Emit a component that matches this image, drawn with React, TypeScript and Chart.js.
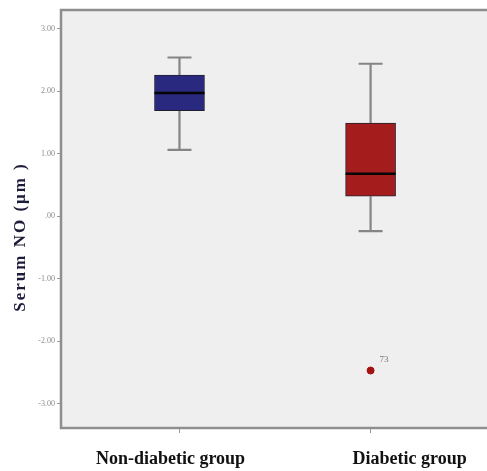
import React, { useEffect, useRef } from "react";
import { Chart, registerables } from "chart.js";

Chart.register(...registerables);

// ---- data ----
const categories = ["Non-diabetic group", "Diabetic group"];
const whiskerLow = [1.06, -0.24];
const q1 = [1.69, 0.32];
const medians = [1.97, 0.68];
const q3 = [2.26, 1.49];
const whiskerHigh = [2.54, 2.44];
const outlierGroup = [1];
const outlierValue = [-2.47];
const outlierLabel = ["73"];
const yTickValues = [3, 2, 1, 0, -1, -2, -3];
const yTickLabels = ["3.00", "2.00", "1.00", ".00", "-1.00", "-2.00", "-3.00"];
const yTitle = "Serum NO (μm )";

// ---- styles ----
const boxColors = ["#29297f", "#a51c1c"];
const labelShift = [-9, 39];
const SERIF = '"Liberation Serif", "Times New Roman", serif';

const boxPlugin = {
  id: "boxExtras",
  beforeDraw(chart: any) {
    const { ctx, chartArea: a } = chart;
    ctx.save();
    ctx.fillStyle = "#efefef";
    ctx.fillRect(a.left, a.top, chart.width - a.left, a.bottom - a.top);
    ctx.restore();
  },
  beforeDatasetsDraw(chart: any) {
    const { ctx } = chart;
    const xs = chart.scales.x;
    const ys = chart.scales.y;
    ctx.save();
    ctx.strokeStyle = "#858585";
    ctx.lineWidth = 2.2;
    const cap = 12;
    categories.forEach((_, i) => {
      const x = xs.getPixelForValue(i);
      const yHi = ys.getPixelForValue(whiskerHigh[i]);
      const yQ3 = ys.getPixelForValue(q3[i]);
      const yQ1 = ys.getPixelForValue(q1[i]);
      const yLo = ys.getPixelForValue(whiskerLow[i]);
      ctx.beginPath();
      ctx.moveTo(x, yHi);
      ctx.lineTo(x, yQ3);
      ctx.moveTo(x, yQ1);
      ctx.lineTo(x, yLo);
      ctx.moveTo(x - cap, yHi);
      ctx.lineTo(x + cap, yHi);
      ctx.moveTo(x - cap, yLo);
      ctx.lineTo(x + cap, yLo);
      ctx.stroke();
    });
    ctx.restore();
  },
  afterDatasetsDraw(chart: any) {
    const { ctx, chartArea: a } = chart;
    const xs = chart.scales.x;
    const ys = chart.scales.y;
    const meta = chart.getDatasetMeta(0);
    ctx.save();
    // medians
    ctx.strokeStyle = "#050505";
    ctx.lineWidth = 2.5;
    meta.data.forEach((bar: any, i: number) => {
      const w = bar.width;
      const y = ys.getPixelForValue(medians[i]);
      ctx.beginPath();
      ctx.moveTo(bar.x - w / 2, y);
      ctx.lineTo(bar.x + w / 2, y);
      ctx.stroke();
    });
    // outlier labels
    ctx.fillStyle = "#777";
    ctx.font = `9px ${SERIF}`;
    ctx.textAlign = "left";
    ctx.textBaseline = "middle";
    outlierGroup.forEach((g, i) => {
      const x = xs.getPixelForValue(g);
      const y = ys.getPixelForValue(outlierValue[i]);
      ctx.fillText(outlierLabel[i], x + 9, y - 11);
    });
    // frame
    ctx.strokeStyle = "#8e8e8e";
    ctx.lineWidth = 2.5;
    ctx.beginPath();
    ctx.moveTo(chart.width + 2, a.top);
    ctx.lineTo(a.left, a.top);
    ctx.lineTo(a.left, a.bottom);
    ctx.lineTo(chart.width + 2, a.bottom);
    ctx.stroke();
    // category labels
    ctx.fillStyle = "#111";
    ctx.font = `bold 18px ${SERIF}`;
    ctx.textAlign = "center";
    ctx.textBaseline = "alphabetic";
    categories.forEach((c, i) => {
      ctx.fillText(c, xs.getPixelForValue(i) + labelShift[i], 464);
    });
    // y title
    ctx.translate(21, 237);
    ctx.rotate(-Math.PI / 2);
    ctx.fillStyle = "#1c1c3a";
    ctx.font = `bold 17px ${SERIF}`;
    (ctx as any).letterSpacing = "2px";
    ctx.textAlign = "center";
    ctx.textBaseline = "middle";
    ctx.fillText(yTitle, 0, 0);
    ctx.restore();
  },
};

export default function App() {
  const ref = useRef<HTMLCanvasElement>(null);
  useEffect(() => {
    if (!ref.current) return;
    const chart = new Chart(ref.current, {
      type: "bar",
      data: {
        datasets: [
          {
            type: "bar",
            data: categories.map((_, i) => ({ x: i, y: [q1[i], q3[i]] })) as any,
            backgroundColor: boxColors,
            borderColor: "#202030",
            borderWidth: 1,
            borderSkipped: false,
            barThickness: 50,
          } as any,
          {
            type: "scatter",
            data: outlierGroup.map((g, i) => ({ x: g, y: outlierValue[i] })),
            pointRadius: 3.5,
            backgroundColor: "#a51010",
            borderColor: "#a51010",
          } as any,
        ],
      },
      options: {
        animation: false,
        responsive: false,
        layout: { padding: { top: 10, left: 0, right: 0, bottom: 0 } },
        plugins: { legend: { display: false }, tooltip: { enabled: false } },
        scales: {
          x: {
            type: "linear",
            offset: false,
            min: -0.62,
            max: 1.583,
            afterBuildTicks: (s: any) => {
              s.ticks = categories.map((_, i) => ({ value: i }));
            },
            afterFit: (s: any) => {
              s.height = 43;
            },
            ticks: { display: false },
            grid: { offset: false, drawOnChartArea: false, drawTicks: true, tickLength: 5, color: "#999" },
            border: { display: false },
          },
          y: {
            type: "linear",
            min: -3.39,
            max: 3.3,
            afterBuildTicks: (s: any) => {
              s.ticks = yTickValues.map((v) => ({ value: v }));
            },
            afterFit: (s: any) => {
              s.width = 61;
            },
            ticks: {
              autoSkip: false,
              padding: 2,
              color: "#8a8a8a",
              font: { family: SERIF, size: 8 },
              callback: (v: any) => {
                const idx = yTickValues.indexOf(Number(v));
                return idx >= 0 ? yTickLabels[idx] : "";
              },
            },
            grid: { drawOnChartArea: false, drawTicks: true, tickLength: 4, color: "#999" },
            border: { display: false },
          },
        },
      } as any,
      plugins: [boxPlugin],
    });
    return () => chart.destroy();
  }, []);
  return (
    <canvas
      ref={ref}
      width={487}
      height={471}
      style={{ position: "fixed", left: 0, top: 0, width: 487, height: 471, background: "#fff" }}
    />
  );
}
